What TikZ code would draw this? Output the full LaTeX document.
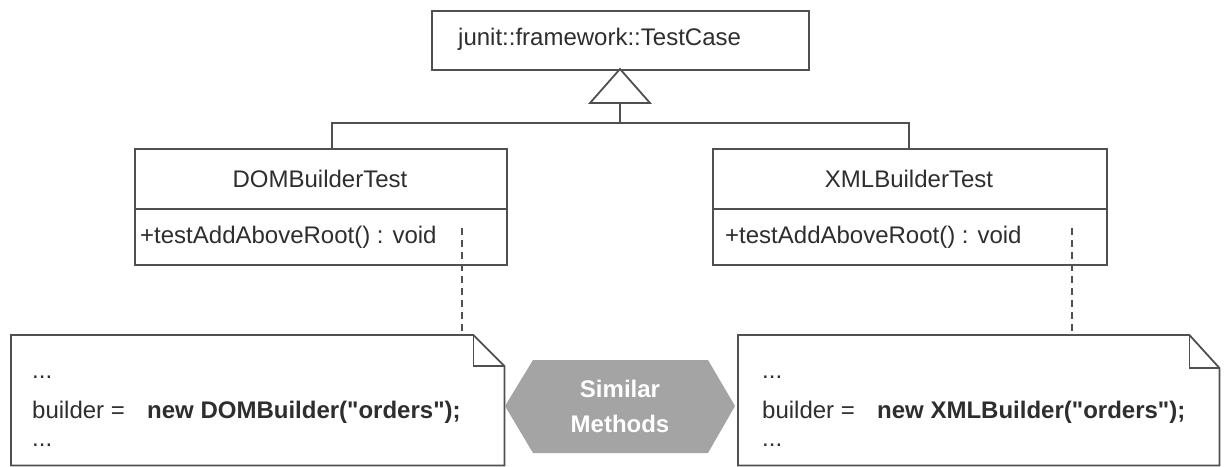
\documentclass[tikz,border=0pt]{standalone}
\usepackage{fontspec}
\setmainfont{Liberation Sans}
\setmonofont{Liberation Sans}
\usetikzlibrary{calc}
\definecolor{ln}{HTML}{505050}
\definecolor{tx}{HTML}{2E2E2E}
\definecolor{hexfill}{HTML}{A4A4A4}
\begin{document}
\begin{tikzpicture}[x=1pt,y=-1pt,
  umlbox/.style={draw=ln, line width=1.8pt, fill=white, inner sep=0pt, anchor=north west},
  lbl/.style={text=tx, font=\fontsize{24}{28}\selectfont, inner sep=0pt},
  code/.style={text=tx, font=\ttfamily\bfseries\fontsize{24}{28}\selectfont, inner sep=0pt},
  link/.style={draw=ln, line width=1.8pt},
  notelink/.style={draw=ln, line width=1.4pt, dash pattern=on 7pt off 5pt},
  noteline/.style={draw=ln, line width=1.8pt, line join=miter},
  ]
\useasboundingbox (0,0) rectangle (1226,466);
\fill[white] (0,0) rectangle (1226,466);

% TestCase
\node[umlbox, minimum width=377pt, minimum height=59pt] (tc) at (431,10) {};
\node[lbl, anchor=west] (tcl) at (458,39.5) {junit::framework::TestCase};

% DOMBuilderTest
\node[umlbox, minimum width=372pt, minimum height=116pt] (dom) at (134,148) {};
\draw[link] (134,209) -- (506,209);
\node[lbl] (doml) at (320,179) {DOMBuilderTest};
\node[lbl, anchor=west] (domm) at (140,237) {+testAddAboveRoot() : void};

% XMLBuilderTest
\node[umlbox, minimum width=394pt, minimum height=116pt] (xml) at (712,148) {};
\draw[link] (712,209) -- (1106,209);
\node[lbl] (xmll) at (909,179) {XMLBuilderTest};
\node[lbl, anchor=west] (xmlm) at (725,237) {+testAddAboveRoot() : void};

% generalization
\coordinate (apex) at (620,69);
\coordinate (tb) at (620,103);
\coordinate (bar) at (620,123);
\draw[link, line join=miter] (apex) -- (590,103) -- (650,103) -- cycle;
\draw[link] (tb) -- (bar);
\draw[link] (dom.north -| 332,0) |- (bar) -| (xml.north -| 909,0);

% notes
\node[inner sep=0pt, minimum width=493pt, minimum height=130pt, anchor=north west] (n1) at (11,335) {};
\draw[noteline, fill=white] (n1.north west) -- ($(n1.north east)+(-31,0)$) -- ($(n1.north east)+(0,31)$) -- (n1.south east) -- (n1.south west) -- cycle;
\draw[noteline] ($(n1.north east)+(-31,0)$) -- ($(n1.north east)+(-31,31)$) -- ($(n1.north east)+(0,31)$);

\node[inner sep=0pt, minimum width=481pt, minimum height=130pt, anchor=north west] (n2) at (738,335) {};
\draw[noteline, fill=white] (n2.north west) -- ($(n2.north east)+(-30,0)$) -- ($(n2.north east)+(0,33)$) -- (n2.south east) -- (n2.south west) -- cycle;
\draw[noteline] ($(n2.north east)+(-30,0)$) -- ($(n2.north east)+(-30,33)$) -- ($(n2.north east)+(0,33)$);

\coordinate (d1) at (462,228);
\coordinate (d2) at (1072,228);
\draw[notelink] (d1) -- (d1 |- n1.north);
\draw[notelink] (d2) -- (d2 |- n2.north);

% note texts
\node[lbl, anchor=base west] (n1a) at (32,378) {...};
\node[lbl, anchor=base west] (n1b) at (32,418) {builder =};
\node[code, anchor=base west] (n1c) at (147,418) {new DOMBuilder("orders");};
\node[lbl, anchor=base west] (n1d) at (32,446) {...};

\node[lbl, anchor=base west] (n2a) at (762,378) {...};
\node[lbl, anchor=base west] (n2b) at (762,418) {builder =};
\node[code, anchor=base west] (n2c) at (877,418) {new XMLBuilder("orders");};
\node[lbl, anchor=base west] (n2d) at (762,446) {...};

% hexagon
\fill[hexfill] (505,406) -- (533,360) -- (708,360) -- (735,406) -- (708,453) -- (533,453) -- cycle;
\node[lbl, text=white, font=\bfseries\fontsize{24}{28}\selectfont] (hs) at (620,389) {Similar};
\node[lbl, text=white, font=\bfseries\fontsize{24}{28}\selectfont] (hm) at (620,424) {Methods};
\end{tikzpicture}
\end{document}
